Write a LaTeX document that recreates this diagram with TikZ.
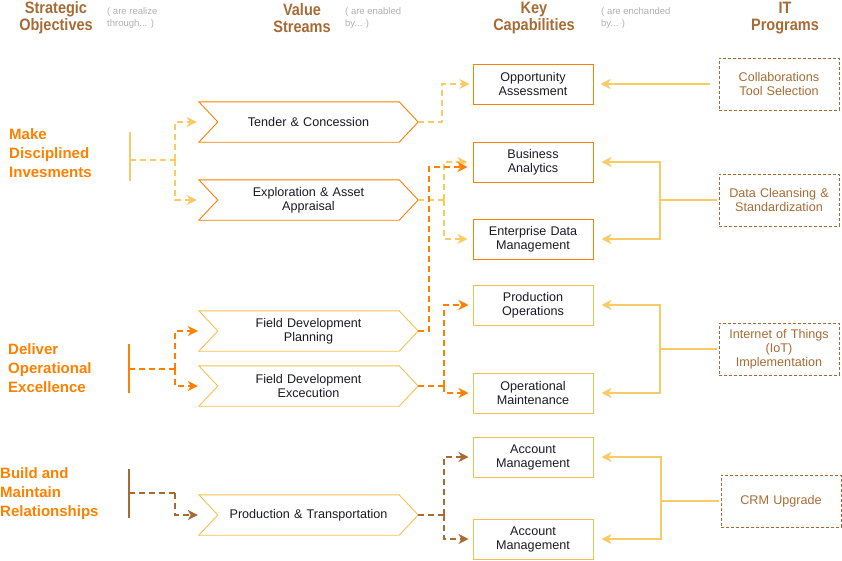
\documentclass[tikz,border=0pt]{standalone}
\usepackage{fontspec}
\setmainfont{Liberation Sans}
\newfontfamily\hdrfont[FakeStretch=0.88]{Liberation Sans}
\usetikzlibrary{arrows.meta,calc}
\definecolor{ylw}{HTML}{F9CB67}
\definecolor{ylwbox}{HTML}{F4C150}
\definecolor{org}{HTML}{FF8000}
\definecolor{brn}{HTML}{A66B34}
\definecolor{txt}{HTML}{1A1A24}
\definecolor{greytxt}{HTML}{AFAFAF}
\newcommand\chev[2]{\draw[#2, line width=0.9pt] (#1.north west) -- ([xshift=-19pt]#1.north east) -- (#1.east) -- ([xshift=-19pt]#1.south east) -- (#1.south west) -- ([xshift=19pt]#1.west) -- cycle;}
\begin{document}
\begin{tikzpicture}[x=1pt,y=-1pt,
  vsbox/.style={minimum width=219pt, minimum height=40pt, inner sep=0pt, text width=160pt, align=center, font=\fontsize{12.6}{14}\selectfont, text=txt},
  capbox/.style={draw, line width=1pt, minimum width=120pt, minimum height=40pt, inner sep=0pt, text width=115pt, align=center, font=\fontsize{12.6}{14}\selectfont, text=txt},
  progbox/.style={draw=brn, dash pattern=on 3pt off 2pt, line width=1pt, minimum width=120pt, minimum height=52pt, inner sep=0pt, text width=115pt, align=center, font=\fontsize{12.6}{14}\selectfont, text=brn},
  objtext/.style={anchor=west, align=left, font=\bfseries\fontsize{15}{19}\selectfont, text=org, inner sep=0pt},
  hdrtext/.style={align=center, font=\hdrfont\bfseries\fontsize{16.5}{17}\selectfont, text=brn, inner sep=0pt},
  notetext/.style={anchor=west, align=left, font=\fontsize{9.5}{12}\selectfont, text=greytxt, inner sep=0pt},
  dconn/.style={line width=2pt, dash pattern=on 6pt off 4pt, -{Stealth[length=10pt,width=10pt,inset=3pt]}},
  dplain/.style={line width=2pt, dash pattern=on 6pt off 4pt},
  slink/.style={line width=2pt, draw=ylw, -{Stealth[length=10pt,width=10pt,inset=3pt]}},
  objbar/.style={line width=2pt}
]
\useasboundingbox (0,0) rectangle (842,560);

% headers
\node[hdrtext] (h1) at (56,18) {Strategic\\Objectives};
\node[notetext] (n1) at (107,18) {( are realize\\through... )};
\node[hdrtext] (h2) at (302,18) {Value\\Streams};
\node[notetext] (n2) at (345,18) {( are enabled\\by... )};
\node[hdrtext] (h3) at (534,18) {Key\\Capabilities};
\node[notetext] (n3) at (601,18) {( are enchanded\\by... )};
\node[hdrtext] (h4) at (785,18) {IT\\Programs};

% objectives
\node[objtext] (o1) at (9,153) {Make\\Disciplined\\Invesments};
\node[objtext] (o2) at (8,368) {Deliver\\Operational\\Excellence};
\node[objtext] (o3) at (0,494) {Build and\\Maintain\\Relationships};
\draw[objbar, ylw] (130,132) -- (130,181);
\draw[objbar, org] (129,344) -- (129,393);
\draw[objbar, brn] (129,469) -- (129,518);
\coordinate (m1) at (130,160); \coordinate (j1) at (175,160);
\coordinate (m2) at (129,369); \coordinate (j2) at (175,369);
\coordinate (m3) at (129,493); \coordinate (j3) at (175,493);

% value streams
\node[vsbox] (tc) at (308.5,122) {Tender \& Concession};
\node[vsbox] (ea) at (308.5,200) {Exploration \& Asset\\Appraisal};
\node[vsbox] (fdp) at (308.5,331) {Field Development\\Planning};
\node[vsbox] (fde) at (308.5,386) {Field Development\\Excecution};
\node[vsbox] (pt) at (308.5,515) {Production \& Transportation};
\chev{tc}{org}
\chev{ea}{org}
\chev{fdp}{ylwbox}
\chev{fde}{ylwbox}
\chev{pt}{ylwbox}

% capabilities
\node[capbox, draw=org] (oa) at (533,84) {Opportunity\\Assessment};
\node[capbox, draw=org] (ba) at (533,162) {Business\\Analytics};
\node[capbox, draw=org] (edm) at (533,239) {Enterprise Data\\Management};
\node[capbox, draw=ylwbox] (po) at (533,305) {Production\\Operations};
\node[capbox, draw=ylwbox] (om) at (533,393) {Operational\\Maintenance};
\node[capbox, draw=ylwbox] (am1) at (533,457) {Account\\Management};
\node[capbox, draw=ylwbox] (am2) at (533,539) {Account\\Management};

% programs
\node[progbox] (cts) at (779,84) {Collaborations\\Tool Selection};
\node[progbox] (dcs) at (779,200) {Data Cleansing \&\\Standardization};
\node[progbox] (iot) at (779,349) {Internet of Things\\(IoT)\\Implementation};
\node[progbox] (crm) at (781,501) {CRM Upgrade};

% objectives -> value streams
\draw[dplain, ylw] (m1) -- (j1);
\draw[dconn, ylw] (j1) |- ([xshift=-2pt]tc.west);
\draw[dconn, ylw] (j1) |- ([xshift=-2pt]ea.west);
\draw[dplain, org] (m2) -- (j2);
\draw[dconn, org] (j2) |- ([xshift=-1pt]fdp.west);
\draw[dconn, org] (j2) |- ([xshift=-1pt]fde.west);
\draw[dplain, brn] (m3) -- (j3);
\draw[dconn, brn] (j3) |- ([xshift=-1pt]pt.west);

% value streams -> capabilities
\draw[dconn, ylw] (tc.east) -- ++(24,0) |- ([xshift=-3pt]oa.west);
\coordinate (k2) at (444,200);
\draw[dplain, ylw] (ea.east) -- (k2);
\draw[dconn, ylw] (k2) |- ([xshift=-5pt]ba.west);
\draw[dconn, ylw] (k2) |- ([xshift=-5pt]edm.west);
\draw[dconn, org] (fdp.east) -- ++(11,0) |- ([xshift=-5pt,yshift=-5pt]ba.west);
\coordinate (k4) at (444,386);
\draw[dplain, org] (fde.east) -- (k4);
\draw[dconn, org] (k4) |- ([xshift=-4pt]po.west);
\draw[dconn, org] (k4) |- ([xshift=-4pt]om.west);
\coordinate (k5) at (444,515);
\draw[dplain, brn] (pt.east) -- (k5);
\draw[dconn, brn] (k5) |- ([xshift=-4pt]am1.west);
\draw[dconn, brn] (k5) |- ([xshift=-4pt]am2.west);

% programs -> capabilities
\draw[slink] ([xshift=-9pt]cts.west) -- ([xshift=7pt]oa.east);
\coordinate (q2) at (660,200);
\draw[line width=2pt, ylw] ([xshift=-2pt]dcs.west) -- (q2);
\draw[slink] (q2) |- ([xshift=8pt]ba.east);
\draw[slink] (q2) |- ([xshift=8pt]edm.east);
\coordinate (q3) at (660,349);
\draw[line width=2pt, ylw] ([xshift=-2pt]iot.west) -- (q3);
\draw[slink] (q3) |- ([xshift=8pt]po.east);
\draw[slink] (q3) |- ([xshift=8pt]om.east);
\coordinate (q4) at (661,501);
\draw[line width=2pt, ylw] ([xshift=-2pt]crm.west) -- (q4);
\draw[slink] (q4) |- ([xshift=8pt]am1.east);
\draw[slink] (q4) |- ([xshift=8pt]am2.east);
\end{tikzpicture}
\end{document}
